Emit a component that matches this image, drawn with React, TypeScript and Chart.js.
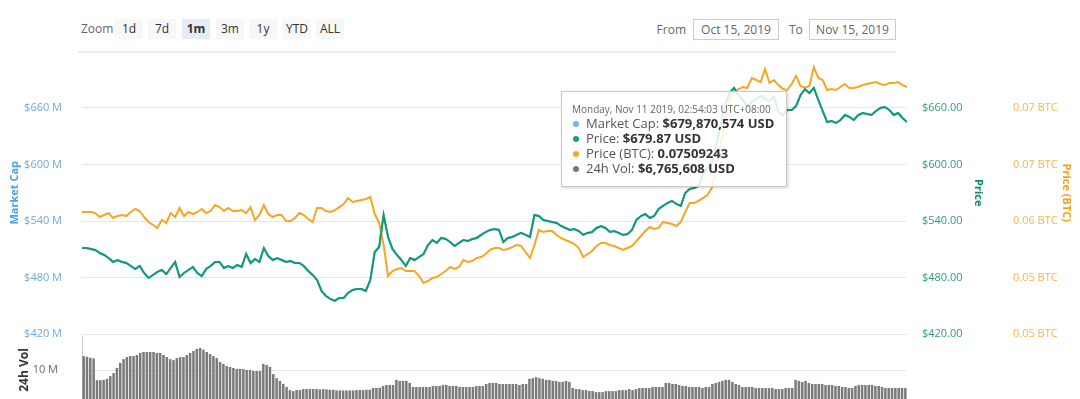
import React, { useEffect, useRef } from "react";
import { Chart, registerables } from "chart.js";

Chart.register(...registerables);

// ---------- data ----------
const RANGE_HOURS = 744; // Oct 15 -> Nov 15, 2019
const HOURS_PER_POINT = 4;
const HOURS_PER_BAR = 3;

// Price (USD), one reading every 4 hours. Market cap (in $M) tracks it 1:1 (supply ~1M).
const priceUsd = [
  511.4, 511.4, 510.3, 509.2, 506.0, 503.9, 500.7, 496.5, 498.6, 496.5,
  495.4, 492.2, 489.0, 492.2, 484.8, 479.5, 482.7, 485.9, 488.0, 483.7,
  490.1, 496.5, 480.6, 484.8, 488.0, 491.2, 484.8, 481.6, 489.0, 492.2,
  496.5, 496.5, 490.1, 492.2, 490.1, 493.3, 491.2, 505.0, 495.4, 499.7,
  496.5, 511.4, 502.8, 498.6, 500.7, 498.6, 496.5, 497.5, 495.4, 495.4,
  492.2, 486.9, 482.7, 477.4, 465.7, 460.4, 457.2, 455.1, 458.3, 458.3,
  463.6, 466.7, 467.8, 467.8, 465.7, 477.4, 507.1, 512.4, 546.4, 523.0,
  510.3, 503.9, 498.6, 492.2, 500.7, 498.6, 501.8, 505.0, 514.5, 519.8,
  516.7, 522.0, 520.9, 517.7, 513.5, 516.7, 519.8, 518.8, 520.9, 522.0,
  525.2, 528.3, 530.5, 531.5, 530.5, 517.7, 522.0, 523.0, 525.2, 527.3,
  525.2, 523.0, 546.4, 545.3, 541.1, 540.0, 539.0, 537.9, 534.7, 532.6,
  530.5, 531.5, 529.4, 525.2, 527.3, 528.3, 532.6, 534.7, 532.6, 528.3,
  529.4, 527.3, 525.2, 526.2, 530.5, 541.1, 545.3, 547.4, 543.2, 545.3,
  552.8, 556.0, 559.1, 561.3, 558.1, 556.0, 569.7, 574.0, 575.1, 577.2,
  589.9, 596.3, 602.7, 620.7, 642.0, 663.2, 675.9, 681.3, 673.8, 668.5,
  661.1, 666.4, 669.6, 672.8, 669.6, 667.4, 671.7, 655.8, 652.6, 657.9,
  657.9, 662.1, 673.8, 679.9, 675.9, 681.3, 668.5, 656.8, 645.1, 646.2,
  644.1, 647.3, 652.6, 650.5, 647.3, 652.6, 654.7, 653.7, 652.6, 656.8,
  660.0, 661.1, 657.9, 652.6, 654.7, 649.4, 645.1,
];

const marketCapM = priceUsd;

const priceBtc = [
  0.06102, 0.06102, 0.06102, 0.0609, 0.06045, 0.06068, 0.0609, 0.06034, 0.06056, 0.06068,
  0.06056, 0.06102, 0.06136, 0.06113, 0.06045, 0.05988, 0.05955, 0.05921, 0.06011, 0.05977,
  0.0609, 0.06045, 0.06147, 0.06056, 0.06102, 0.06079, 0.06102, 0.06136, 0.0609, 0.06113,
  0.06181, 0.06158, 0.06113, 0.06147, 0.06113, 0.06113, 0.06124, 0.0609, 0.06158, 0.06011,
  0.06068, 0.06181, 0.06079, 0.06045, 0.06068, 0.06068, 0.06, 0.06, 0.06034, 0.0609,
  0.06068, 0.06022, 0.05988, 0.06147, 0.06147, 0.06113, 0.06102, 0.06124, 0.06158, 0.06192,
  0.0626, 0.06215, 0.06227, 0.06238, 0.06249, 0.06272, 0.06079, 0.05977, 0.05728, 0.05377,
  0.05434, 0.05456, 0.05468, 0.05434, 0.05434, 0.05434, 0.05377, 0.05298, 0.0532, 0.05354,
  0.05366, 0.054, 0.05434, 0.05479, 0.05456, 0.05479, 0.05558, 0.05536, 0.05547, 0.05581,
  0.05592, 0.05626, 0.05672, 0.05694, 0.05694, 0.05672, 0.05683, 0.05705, 0.05728, 0.05717,
  0.05649, 0.05581, 0.05728, 0.05898, 0.05875, 0.05887, 0.05887, 0.05841, 0.05807, 0.05785,
  0.05762, 0.05739, 0.05694, 0.05592, 0.05626, 0.0566, 0.05717, 0.05751, 0.05751, 0.05728,
  0.05717, 0.05694, 0.05672, 0.05694, 0.05717, 0.05773, 0.0583, 0.05887, 0.05932, 0.05909,
  0.05921, 0.05988, 0.05977, 0.05966, 0.05943, 0.05988, 0.06102, 0.06204, 0.06204, 0.06227,
  0.0626, 0.06295, 0.06374, 0.066, 0.06861, 0.07144, 0.0737, 0.07461, 0.07495, 0.07518,
  0.07506, 0.0762, 0.07597, 0.07574, 0.07722, 0.07563, 0.07597, 0.0754, 0.07495, 0.07484,
  0.07552, 0.07642, 0.07529, 0.07509, 0.07529, 0.07744, 0.0762, 0.07597, 0.07484, 0.07495,
  0.07484, 0.07518, 0.07552, 0.07506, 0.07506, 0.07518, 0.0754, 0.07552, 0.07563, 0.07574,
  0.07552, 0.0754, 0.07563, 0.07563, 0.07574, 0.0754, 0.07518,
];

// 24h volume in millions USD, one bar every 3 hours
const volumeM = [
  14.1, 13.9, 13.6, 13.4,
  7.0, 7.0, 7.1, 7.4,
  8.2, 9.1, 10.6, 12.1, 13.2, 13.8,
  14.1, 14.1, 14.4, 15.0, 15.3, 15.3, 15.3, 15.3, 15.0, 15.0,
  14.4, 13.8, 13.2, 12.9, 13.5, 13.8, 13.8, 14.4, 15.0, 15.6,
  16.2, 16.5, 16.0, 15.3, 14.7, 14.1, 13.5, 12.4, 11.8, 11.2,
  10.9, 10.6, 10.3, 10.3, 10.3, 10.0, 10.0, 9.7, 9.7, 9.7,
  11.8, 11.5, 10.9, 8.8, 7.6, 6.8, 5.9, 5.0, 4.1, 3.8,
  4.1, 4.1, 4.4, 4.4, 4.4, 4.4, 4.4, 4.3, 4.4, 4.3,
  4.2, 4.2, 4.0, 4.0, 4.0, 4.0, 4.0, 4.0, 4.1, 4.1,
  4.1, 4.2, 4.2, 4.7, 4.7, 4.8, 5.3, 5.6, 5.6, 5.6,
  7.1, 6.8, 6.8, 6.8, 6.2, 5.0, 5.0, 5.0, 5.0, 5.0,
  5.0, 5.3, 5.3, 5.3, 5.6, 5.6, 5.3, 5.3, 5.3, 5.0,
  5.0, 5.0, 5.0, 5.0, 5.3, 5.3, 5.3, 5.9, 6.2, 6.2,
  6.2, 5.9, 5.9, 5.9, 5.9, 5.9, 5.9, 5.6, 5.9, 5.9,
  7.4, 7.6, 7.9, 7.6, 7.4, 7.1, 7.1, 6.8, 6.8, 6.5,
  6.5, 6.8, 6.5, 4.7, 4.4, 4.4, 4.1, 4.1, 3.8, 3.8,
  3.5, 3.5, 3.5, 3.8, 3.8, 3.8, 3.8, 4.1, 4.1, 4.1,
  4.4, 4.1, 4.4, 4.7, 4.7, 4.7, 4.7, 5.0, 5.0, 5.0,
  5.0, 6.2, 6.2, 5.9, 5.9, 5.6, 5.3, 5.3, 5.0, 5.0,
  5.0, 5.0, 4.7, 5.0, 5.0, 5.9, 6.2, 6.5, 6.8, 7.1,
  7.1, 6.5, 5.9, 5.6, 5.0, 5.0, 5.0, 5.0, 4.7, 4.7,
  4.7, 4.7, 4.7, 4.7, 4.4, 4.4, 4.4, 4.7, 4.7, 4.7,
  7.1, 6.8, 6.5, 6.77, 6.2, 5.9, 5.9, 5.9, 5.9, 5.6,
  5.6, 5.6, 5.3, 5.3, 5.0, 5.0, 4.7, 4.7, 5.3, 5.6,
  5.6, 5.6, 5.6, 5.6, 5.3, 5.3, 5.0, 4.7, 4.7, 4.7,
  4.7, 4.7, 4.7, 4.7,
];

const capTicks = [420, 480, 540, 600, 660];
const priceTicks = [420, 480, 540, 600, 660];
const btcTicks = [0.0472, 0.0536, 0.06, 0.0664, 0.0728];
const volTicks = [10];

const zoomButtons = ["1d", "7d", "1m", "3m", "1y", "YTD", "ALL"];
const selectedZoom = "1m";
const fromDate = "Oct 15, 2019";
const toDate = "Nov 15, 2019";

const tooltipTitle = "Monday, Nov 11 2019, 02:54:03 UTC+08:00";
const tooltipRows = [
  { label: "Market Cap", value: "$679,870,574 USD", color: "#7cb5ec" },
  { label: "Price", value: "$679.87 USD", color: "#16a07c" },
  { label: "Price (BTC)", value: "0.07509243", color: "#f5a623" },
  { label: "24h Vol", value: "$6,765,608 USD", color: "#777777" },
];

// ---------- styles ----------
const FONT = "'Open Sans', 'Noto Sans', sans-serif";
const BLUE = "#7cb5ec";
const GREEN = "#119a78";
const ORANGE = "#f5a623";
const GRID = "#e6e6e6";

function fixTicks(values: number[]) {
  return (scale: any) => {
    scale.ticks = values.map((value) => ({ value }));
  };
}
function fixWidth(w: number) {
  return (scale: any) => {
    scale.width = w;
  };
}

export default function App() {
  const mainRef = useRef<HTMLCanvasElement>(null);
  const volRef = useRef<HTMLCanvasElement>(null);

  useEffect(() => {
    Chart.defaults.font.family = FONT;
    const pts = (vals: number[]) =>
      vals.map((v, i) => ({ x: i * HOURS_PER_POINT, y: v }));

    const main = new Chart(mainRef.current as HTMLCanvasElement, {
      type: "line",
      data: {
        datasets: [
          {
            label: "Market Cap",
            data: pts(marketCapM),
            yAxisID: "yCap",
            borderColor: BLUE,
            borderWidth: 2,
            pointRadius: 0,
            order: 3,
          },
          {
            label: "Price (BTC)",
            data: pts(priceBtc),
            yAxisID: "yBtc",
            borderColor: ORANGE,
            borderWidth: 2,
            pointRadius: 0,
            order: 2,
          },
          {
            label: "Price",
            data: pts(priceUsd),
            yAxisID: "yPrice",
            borderColor: GREEN,
            borderWidth: 2,
            pointRadius: 0,
            order: 1,
          },
        ],
      },
      options: {
        responsive: false,
        animation: false,
        events: [],
        layout: { padding: { top: 51.5, bottom: 36, left: 0, right: 0 } },
        plugins: { legend: { display: false }, tooltip: { enabled: false } },
        scales: {
          x: { type: "linear", min: 0, max: RANGE_HOURS, display: false },
          yCap: {
            position: "left",
            min: 420,
            max: 720,
            afterBuildTicks: fixTicks(capTicks),
            afterFit: fixWidth(82),
            grid: { display: false },
            border: { display: false },
            ticks: {
              color: "#6fabd9",
              padding: 12,
              font: { size: 11 },
              callback: (v: any) => `$${v} M`,
            },
            title: {
              display: true,
              text: "Market Cap",
              color: "#4aa3de",
              font: { size: 11, weight: "bold" },
              padding: { top: 8.4, bottom: 0 },
            },
          },
          yPrice: {
            position: "right",
            weight: 0,
            min: 420,
            max: 720,
            afterBuildTicks: fixTicks(priceTicks),
            afterFit: fixWidth(85),
            grid: { color: GRID, drawTicks: false },
            border: { display: false },
            ticks: {
              color: "#2f9c80",
              padding: 15,
              font: { size: 11 },
              callback: (v: any) => `$${Number(v).toFixed(2)}`,
            },
            title: {
              display: true,
              text: "Price",
              color: "#0e8c6b",
              font: { size: 11, weight: "bold" },
              padding: { top: 7.4, bottom: 0 },
            },
          },
          yBtc: {
            position: "right",
            weight: 1,
            min: 0.0472,
            max: 0.0792,
            afterBuildTicks: fixTicks(btcTicks),
            afterFit: fixWidth(88),
            grid: { display: false },
            border: { display: false },
            ticks: {
              color: "#f2b552",
              padding: 13,
              font: { size: 11 },
              callback: (v: any) => `${Number(v).toFixed(2)} BTC`,
            },
            title: {
              display: true,
              text: "Price (BTC)",
              color: "#f0a21e",
              font: { size: 11, weight: "bold" },
              padding: { top: 7.4, bottom: 0 },
            },
          },
        },
      },
    } as any);

    const vol = new Chart(volRef.current as HTMLCanvasElement, {
      type: "bar",
      data: {
        datasets: [
          {
            label: "24h Vol",
            data: volumeM.map((v, j) => ({
              x: j * HOURS_PER_BAR + HOURS_PER_BAR / 2,
              y: v,
            })),
            backgroundColor: "#7b7b7b",
            barPercentage: 1,
            categoryPercentage: 0.76,
            yAxisID: "yVol",
          },
        ],
      },
      options: {
        responsive: false,
        animation: false,
        events: [],
        layout: { padding: { top: 36, bottom: 36, left: 0, right: 173 } },
        plugins: { legend: { display: false }, tooltip: { enabled: false } },
        scales: {
          x: {
            type: "linear",
            min: 0,
            max: RANGE_HOURS,
            display: false,
            offset: false,
          },
          yVol: {
            position: "left",
            min: 0,
            max: 20,
            afterBuildTicks: fixTicks(volTicks),
            afterFit: fixWidth(82),
            grid: { color: GRID, drawTicks: false },
            border: { display: true, color: "#cccccc" },
            ticks: {
              color: "#666666",
              padding: 24,
              font: { size: 11 },
              callback: (v: any) => `${v} M`,
            },
            title: {
              display: true,
              text: "24h Vol",
              color: "#333333",
              font: { size: 12, weight: "bold" },
              padding: { top: 17.8, bottom: 0 },
            },
          },
        },
      },
    } as any);

    return () => {
      main.destroy();
      vol.destroy();
    };
  }, []);

  const btnLefts = [115, 148, 182, 216, 249, 283, 316];

  return (
    <div
      style={{
        position: "fixed",
        left: 0,
        top: 0,
        width: 1080,
        height: 399,
        overflow: "hidden",
        background: "#ffffff",
        fontFamily: FONT,
      }}
    >
      {/* range selector */}
      <div
        style={{
          position: "absolute",
          left: 81,
          top: 19,
          height: 20,
          lineHeight: "20px",
          fontSize: 12,
          color: "#666",
        }}
      >
        Zoom
      </div>
      {zoomButtons.map((b, i) => (
        <div
          key={b}
          style={{
            position: "absolute",
            left: btnLefts[i],
            top: 19,
            width: 28,
            height: 20,
            lineHeight: "20px",
            textAlign: "center",
            fontSize: 12,
            color: "#333",
            fontWeight: b === selectedZoom ? 700 : 400,
            background: b === selectedZoom ? "#e6ebf5" : "#f7f7f7",
          }}
        >
          {b}
        </div>
      ))}
      <div
        style={{
          position: "absolute",
          left: 650,
          width: 36,
          textAlign: "right",
          top: 19,
          height: 21,
          lineHeight: "21px",
          fontSize: 12,
          color: "#666",
        }}
      >
        From
      </div>
      <div
        style={{
          position: "absolute",
          left: 693,
          top: 19,
          width: 84,
          height: 19,
          lineHeight: "19px",
          border: "1px solid #cccccc",
          textAlign: "center",
          fontSize: 12,
          color: "#666",
        }}
      >
        {fromDate}
      </div>
      <div
        style={{
          position: "absolute",
          left: 789,
          top: 19,
          height: 21,
          lineHeight: "21px",
          fontSize: 12,
          color: "#666",
        }}
      >
        To
      </div>
      <div
        style={{
          position: "absolute",
          left: 809,
          top: 19,
          width: 85,
          height: 19,
          lineHeight: "19px",
          border: "1px solid #cccccc",
          textAlign: "center",
          fontSize: 12,
          color: "#666",
        }}
      >
        {toDate}
      </div>
      <div
        style={{
          position: "absolute",
          left: 78,
          top: 51,
          width: 818,
          height: 2,
          background: "#ececec",
        }}
      />

      <canvas
        ref={mainRef}
        width={1080}
        height={370}
        style={{ position: "absolute", left: 0, top: 0, width: 1080, height: 370 }}
      />
      <canvas
        ref={volRef}
        width={1080}
        height={140}
        style={{ position: "absolute", left: 0, top: 300, width: 1080, height: 140 }}
      />

      {/* tooltip */}
      <div
        style={{
          position: "absolute",
          left: 561,
          top: 91,
          width: 226,
          height: 96,
          background: "rgba(255,255,255,0.85)",
          border: "1px solid #c9c9c9",
          boxShadow: "1px 1px 3px rgba(0,0,0,0.18)",
          padding: "10px 0 0 10px",
          boxSizing: "border-box",
          whiteSpace: "nowrap",
        }}
      >
        <div style={{ fontSize: 10, lineHeight: "14px", color: "#666" }}>
          {tooltipTitle}
        </div>
        {tooltipRows.map((r) => (
          <div
            key={r.label}
            style={{ fontSize: 13, lineHeight: "15px", color: "#555" }}
          >
            <span
              style={{
                display: "inline-block",
                width: 6,
                height: 6,
                borderRadius: 3,
                background: r.color,
                marginLeft: 1,
                marginRight: 7,
                verticalAlign: "middle",
                position: "relative",
                top: -1,
              }}
            />
            {r.label}:{" "}
            <span style={{ fontWeight: 700, color: "#333" }}>{r.value}</span>
          </div>
        ))}
      </div>
    </div>
  );
}
